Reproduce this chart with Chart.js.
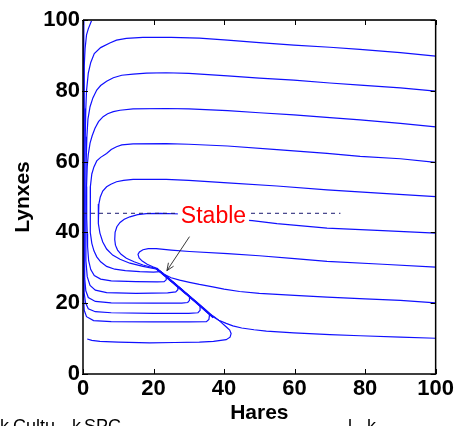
<!DOCTYPE html>
<html><head><meta charset="utf-8">
<style>html,body{margin:0;padding:0;background:#fff;}canvas{display:block;}</style>
<script src="https://cdn.jsdelivr.net/npm/chart.js@4.4.1/dist/chart.umd.min.js"></script>
</head><body>
<canvas id="c" width="456" height="426"></canvas>
<script>
// ---- data (Hares = x, Lynxes = y) ----
const xTicks = [0, 20, 40, 60, 80, 100];
const yTicks = [0, 20, 40, 60, 80, 100];
const xTitle = 'Hares';
const yTitle = 'Lynxes';
const labelText = 'Stable';
const labelPos = [37, 45.2];
const arrowFrom = [30.2, 38.8];
const arrowTo = [23.8, 29.2];
const dashLine = [[0, 45.4], [73, 45.4]];

const trajY100 = [[0.25,101],[0.15,90],[0.12,60],[0.15,35],[0.2,22],[0.35,18],[1,16.2],[3,15.1],[8,14.8],[20,14.7],[30,14.7],[35,14.8],[35.7,15.4],[35.9,16.9],[33.2,19.3],[30.2,21.9],[26.9,24.7],[23.6,27.5],[20.8,29.8]];
const trajTop = [[3.3,103],[2.5,100],[1.5,97.5],[1.0,95.8],[0.6,92],[0.35,87],[0.3,75],[0.3,60],[0.3,45],[0.32,30],[0.4,23],[0.7,20.2],[1.5,18.4],[3.5,17.6],[8,17.3],[20,17.1],[30,17.1],[32.6,17.3],[33.2,18],[33.2,19.3],[30.2,21.9],[26.9,24.7],[23.6,27.5],[20.8,29.8]];
const traj90 = [[100,89.8],[90,90.8],[78.5,91.7],[70,92.3],[59.8,92.9],[50,93.6],[41,94.3],[33,94.9],[25,95.1],[17,95.1],[12.3,94.8],[9.5,94.3],[7.6,93.5],[5,92.2],[3.2,90.5],[2.2,88],[1.5,85],[1.0,80],[0.8,75],[0.6,65],[0.5,55],[0.45,45],[0.45,35],[0.55,27],[0.8,23.5],[1.5,21.6],[3.5,20.5],[8,20.1],[20,20],[28,20],[29.7,20.2],[30.2,20.8],[30.2,21.9],[26.9,24.7],[23.6,27.5],[20.8,29.8]];
const traj80 = [[100,79.9],[90,80.8],[78.6,81.6],[70,82.2],[59.8,83],[50,83.6],[41,84.2],[30,84.9],[23.6,85.1],[18,85],[14.2,84.7],[11,84.4],[8.6,83.7],[6.7,82.7],[5,81.5],[3.9,80.2],[2.8,78],[2,75.5],[1.4,72],[1.1,67],[0.9,60],[0.8,50],[0.8,40],[0.85,32],[1.2,27.5],[2,25],[3.5,23.7],[6.7,23],[15,22.8],[24,22.9],[26.3,23.2],[26.9,23.8],[26.9,24.7],[23.6,27.5],[20.8,29.8]];
const traj70 = [[100,69.8],[90,70.8],[78.6,71.8],[70,72.4],[59.8,73.2],[50,73.8],[41,74.4],[30,74.9],[23.6,75],[14.2,74.9],[10.5,74.5],[8.6,74.1],[7,73.5],[5.7,72.7],[4.4,71.3],[3.4,69.4],[2.6,67.3],[2,65.2],[1.5,62],[1.2,58.6],[1,53],[1,49.2],[1.1,44],[1.2,39.7],[1.3,36],[1.6,32],[2.2,29.5],[3.2,27.8],[5,26.8],[8,26.3],[15,26.1],[21,26],[23,26.1],[23.6,26.6],[23.6,27.5],[20.8,29.8]];
const traj60 = [[100,59.8],[90,60.8],[78.6,61.5],[69.2,62.3],[55,63.4],[41,64.4],[30,64.9],[23.6,65.1],[14.2,65],[11,64.7],[9.5,64.2],[8,63.4],[6.7,62.3],[5,61.2],[3.9,60.2],[3.1,58.5],[2.5,56.5],[2.1,53],[2,49],[2,44.4],[2.2,40],[2.5,36.9],[3.1,34.8],[3.9,33.1],[5,31.7],[6.7,30.4],[9,29.6],[12,29.2],[16.1,28.9],[20,28.8],[21.8,28.9]];
const traj50 = [[100,50.1],[85,51],[69.2,52],[55,53.1],[41,54],[30,54.7],[23.6,55],[14.2,55],[11.5,54.7],[9.5,54.3],[7.9,53.6],[6.7,52.9],[5.6,51.7],[4.9,50],[4.5,48],[4.3,45.5],[4.4,42.5],[4.8,39.8],[5.6,37.3],[6.7,35.3],[8.4,33.6],[10.5,32.4],[13.3,31.3],[17,30.4],[21,29.6]];
const traj40 = [[100,39.8],[85,40.5],[69.2,41.2],[55,42.5],[48,43.3],[41,43.8],[35,44.4],[28,45.2],[22,45.4],[18,45.3],[15.5,45],[13.3,44.4],[11.7,43.7],[10.5,42.8],[9.6,41.6],[9.1,40],[9,38],[9.2,36.4],[9.8,35],[10.8,33.8],[12.3,32.7],[14.5,31.7],[17,30.8],[20.8,29.8]];
const traj30 = [[100,30.2],[85,31],[69.2,31.8],[60,32.6],[50,33.4],[41,34],[30.2,34.6],[25,35],[20.8,35.4],[18.5,35.4],[17,35.1],[16,34.5],[15.6,33.8],[15.9,32.8],[16.8,31.9],[18.2,31],[19.8,30.3],[21.3,29.7]];
const traj20 = [[100,20.1],[90,20.8],[80,21.2],[69.2,21.7],[60,22.2],[50,22.8],[44.4,23.3],[40,24],[36.8,24.6],[33,25.3],[30.2,25.9],[27.4,26.5],[25,27.2],[23,28.2],[21.2,29.5]];
const traj10 = [[100,10.1],[90,10.4],[78.6,10.8],[70,11.1],[59.8,11.6],[52,12.1],[48.5,12.5],[45,13],[42.5,13.6],[40.6,14.3],[38.5,15.2],[37,16.1],[35.9,16.9],[33.2,19.3],[30.2,21.9],[26.9,24.7],[23.6,27.5],[20.8,29.8]];
const trajBottom = [[1.2,9.9],[2.5,9.5],[4.8,9.2],[10,9],[18.9,8.8],[26,8.9],[33,9],[37,9.2],[40.6,9.7],[41.7,10.4],[42,11.4],[41.6,12.4],[40.5,13.4],[38.7,15],[37.2,16.2],[35.9,16.9],[33.2,19.3],[30.2,21.9],[26.9,24.7],[23.6,27.5],[20.8,29.8]];
const manifold = [[37,16],[33.2,19.3],[30.2,21.9],[26.9,24.7],[23.6,27.5],[20.8,29.8]];

const trajectories = [trajY100, trajTop, traj90, traj80, traj70, traj60, traj50, traj40, traj30, traj20, traj10, trajBottom];

const FONT = 'Arial, "Liberation Sans", Helvetica, sans-serif';
const pts = a => a.map(([x, y]) => ({x, y}));

const datasets = trajectories.map(t => ({
  data: pts(t), showLine: true, borderColor: '#1010ff', borderWidth: 1.2,
  pointRadius: 0, fill: false, tension: 0
}));
datasets.push({data: pts(manifold), showLine: true, borderColor: '#0000ff', borderWidth: 2.2, pointRadius: 0, fill: false, tension: 0});
datasets.unshift({data: pts(dashLine), showLine: true, borderColor: '#1a1a70', borderWidth: 1, borderDash: [4, 4], pointRadius: 0, fill: false});

const annot = {
  id: 'annot',
  afterDatasetsDraw(chart) {
    const {ctx, chartArea: a, scales: {x, y}} = chart;
    ctx.save();
    const lx = x.getPixelForValue(labelPos[0]), ly = y.getPixelForValue(labelPos[1]);
    ctx.font = '23px ' + FONT;
    const w = ctx.measureText(labelText).width;
    ctx.fillStyle = '#fff';
    ctx.fillRect(lx - w / 2 - 3, ly - 12, w + 6, 26);
    ctx.fillStyle = '#ff0000';
    ctx.textAlign = 'center';
    ctx.textBaseline = 'alphabetic';
    ctx.fillText(labelText, lx, ly + 9);
    const x0 = x.getPixelForValue(arrowFrom[0]), y0 = y.getPixelForValue(arrowFrom[1]);
    const x1 = x.getPixelForValue(arrowTo[0]), y1 = y.getPixelForValue(arrowTo[1]);
    ctx.strokeStyle = '#222'; ctx.lineWidth = 0.9;
    ctx.beginPath(); ctx.moveTo(x0, y0); ctx.lineTo(x1, y1); ctx.stroke();
    const ang = Math.atan2(y1 - y0, x1 - x0), L = 8, sp = 0.4;
    ctx.beginPath();
    ctx.moveTo(x1 - L * Math.cos(ang - sp), y1 - L * Math.sin(ang - sp));
    ctx.lineTo(x1, y1);
    ctx.lineTo(x1 - L * Math.cos(ang + sp), y1 - L * Math.sin(ang + sp));
    ctx.stroke();
    ctx.lineWidth = 1.5; ctx.strokeStyle = '#000';
    ctx.beginPath();
    ctx.moveTo(a.left, a.top); ctx.lineTo(a.left, a.bottom); ctx.lineTo(a.right, a.bottom); ctx.lineTo(a.right, a.top);
    ctx.stroke();
    ctx.strokeStyle = '#333'; ctx.lineWidth = 2;
    ctx.beginPath(); ctx.moveTo(a.left, a.top); ctx.lineTo(a.right, a.top); ctx.stroke();
    ctx.lineWidth = 1; ctx.strokeStyle = '#000';
    ctx.beginPath();
    xTicks.forEach(v => {
      const p = Math.round(x.getPixelForValue(v)) + 0.5;
      ctx.moveTo(p, a.bottom); ctx.lineTo(p, a.bottom - 5);
      ctx.moveTo(p, a.top); ctx.lineTo(p, a.top + 5);
    });
    yTicks.forEach(v => {
      const p = Math.round(y.getPixelForValue(v)) + 0.5;
      ctx.moveTo(a.left - 1, p); ctx.lineTo(a.left + 5, p);
      ctx.moveTo(a.right, p); ctx.lineTo(a.right - 5, p);
    });
    ctx.stroke();
    ctx.restore();
  },
  afterDraw(chart) {
    const ctx = chart.ctx;
    ctx.save();
    ctx.fillStyle = '#000';
    ctx.font = '18px ' + FONT;
    ctx.textAlign = 'left';
    ctx.textBaseline = 'alphabetic';
    ctx.fillText('k', 0, 432);
    ctx.fillText('Cultu', 13, 432);
    ctx.fillText('k', 72, 432);
    ctx.fillText('SPC', 84, 432);
    ctx.fillText('l', 348, 432);
    ctx.fillText('k', 367, 432);
    ctx.restore();
  }
};

const tickFont = {family: FONT, size: 22, weight: 'bold'};
const titleFont = {family: FONT, size: 21, weight: 'bold'};

new Chart(document.getElementById('c'), {
  type: 'scatter',
  data: {datasets},
  options: {
    responsive: false,
    animation: false,
    devicePixelRatio: 1,
    layout: {padding: {top: 20, right: 19, left: 0, bottom: 0}},
    plugins: {legend: {display: false}, tooltip: {enabled: false}},
    scales: {
      x: {
        type: 'linear', min: 0, max: 100,
        afterBuildTicks: s => { s.ticks = xTicks.map(v => ({value: v})); },
        ticks: {color: '#000', font: tickFont, padding: 2, maxRotation: 0, autoSkip: false},
        grid: {display: false, drawTicks: false},
        border: {display: false},
        title: {display: true, text: xTitle, color: '#000', font: titleFont, padding: 0},
        afterFit: s => { s.height = 52; }
      },
      y: {
        type: 'linear', min: 0, max: 100,
        afterBuildTicks: s => { s.ticks = yTicks.map(v => ({value: v})); },
        ticks: {color: '#000', font: tickFont, padding: 3, autoSkip: false},
        grid: {display: false, drawTicks: false},
        border: {display: false},
        title: {display: true, text: yTitle, color: '#000', font: titleFont, padding: {top: 11, bottom: 0}},
        afterFit: s => { s.width = 83; }
      }
    }
  },
  plugins: [annot]
});
</script>
</body></html>
